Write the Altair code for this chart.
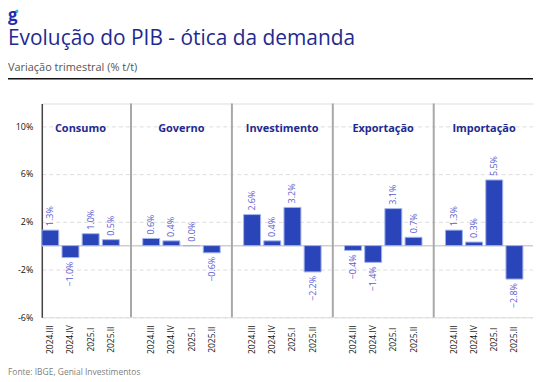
import altair as alt
import pandas as pd

# ---- data ----
components = ["Consumo", "Governo", "Investimento", "Exportação", "Importação"]
quarters = ["2024.III", "2024.IV", "2025.I", "2025.II"]
consumo = [1.3, -1.0, 1.0, 0.5]
governo = [0.6, 0.4, 0.0, -0.6]
investimento = [2.6, 0.4, 3.2, -2.2]
exportacao = [-0.4, -1.4, 3.1, 0.7]
importacao = [1.3, 0.3, 5.5, -2.8]
y_ticks = [-6, -2, 2, 6, 10]

title_text = "Evolução do PIB - ótica da demanda"
subtitle_text = "Variação trimestral (% t/t)"
source_text = "Fonte: IBGE, Genial Investimentos"
logo_text = "g"

series = [consumo, governo, investimento, exportacao, importacao]

rows = []
domain = []
gaps = []
for i, (comp, vals) in enumerate(zip(components, series)):
    if i > 0:
        g = f"gap{i}"
        domain.append(g)
        gaps.append(g)
    for q, v in zip(quarters, vals):
        key = f"{comp}|{q}"
        domain.append(key)
        rows.append({"comp": comp, "quarter": q, "key": key, "value": v})
df = pd.DataFrame(rows)
bar_keys = list(df["key"])
titles_df = pd.DataFrame({"comp": components, "key": [f"{c}|{quarters[1]}" for c in components]})
gaps_df = pd.DataFrame({"key": gaps})

FONT = "Open Sans"
NAVY = "#1f2a8f"

xscale = alt.Scale(domain=domain, paddingInner=0.16, paddingOuter=0.25, align=0)
yscale = alt.Scale(domain=[-6, 11.9], nice=False, zero=False)

x_axis = alt.Axis(title=None, values=bar_keys, labelAngle=270, labelAlign="center",
                  labelBaseline="middle", labelPadding=22, ticks=False, domain=False, grid=False,
                  labelExpr="split(datum.value, '|')[1]", labelFontSize=8.5,
                  labelColor="#111111", labelOverlap=False, labelFont=FONT)
y_axis = alt.Axis(values=y_ticks, title=None, labelExpr="datum.value + '%'", grid=True,
                  gridDash=[4, 3], gridColor="#dddddd", domain=True, domainColor="#444444",
                  domainWidth=1.5, ticks=False, labelPadding=9, labelFontSize=9,
                  labelColor="#111111", labelFont=FONT)

x_enc = alt.X("key:N", scale=xscale, sort=domain, axis=x_axis)
y_enc = alt.Y("value:Q", scale=yscale, axis=y_axis)

bars = alt.Chart(df).mark_bar(color="#2a44b9", stroke="#a3b2ee", strokeWidth=1).encode(
    x=x_enc, y=y_enc)

zero = alt.Chart(pd.DataFrame({"value": [0]})).mark_rule(color="#cfcfcf", strokeWidth=1.5).encode(
    y=y_enc)

seps = alt.Chart(gaps_df).mark_rule(color="#a8a8a8", strokeWidth=2).encode(x=x_enc)

lab_base = alt.Chart(df).transform_calculate(
    label="format(datum.value, '.1f') + '%'")
lab_pos = lab_base.transform_filter("datum.value >= 0").mark_text(
    angle=270, align="left", baseline="middle", dx=4, fontSize=9, color="#5a5ad0", font=FONT
).encode(x=x_enc, y=y_enc, text="label:N")
lab_neg = lab_base.transform_filter("datum.value < 0").mark_text(
    angle=270, align="right", baseline="middle", dx=-4, fontSize=9, color="#5a5ad0", font=FONT
).encode(x=x_enc, y=y_enc, text="label:N")

panel_titles = alt.Chart(titles_df).mark_text(
    fontWeight="bold", fontSize=11, color=NAVY, dx=10, baseline="alphabetic", font=FONT
).encode(x=x_enc, y=alt.value(29), text="comp:N")

def txt(t, x, y, **kw):
    return alt.Chart(pd.DataFrame({"t": [t]})).mark_text(
        align="left", baseline="alphabetic", font=FONT, **kw
    ).encode(x=alt.value(x), y=alt.value(y), text="t:N")

logo = txt(logo_text, -34, -83, fontSize=17, fontWeight="bold", color="#1d2fb0")
logo_dot = alt.Chart(pd.DataFrame({"t": [logo_text]})).mark_point(
    filled=True, color="#3fb7f0", size=10, opacity=1).encode(x=alt.value(-25), y=alt.value(-93))
title = txt(title_text, -34, -59, fontSize=21, color=NAVY)
subtitle = txt(subtitle_text, -34, -33, fontSize=11, color="#555555")
source = txt(source_text, -34, 273, fontSize=8.5, color="#808080")
hline = alt.Chart(pd.DataFrame({"t": [0]})).mark_rule(color="#111111", strokeWidth=1.5).encode(
    x=alt.value(-34), x2=alt.value(494), y=alt.value(-25))

chart = alt.layer(
    zero, bars, seps, lab_pos, lab_neg, panel_titles,
    logo, logo_dot, title, subtitle, hline, source,
).properties(
    width=494, height=215,
    padding={"left": 34, "top": 95, "right": 0, "bottom": 62},
    autosize=alt.AutoSizeParams(type="none"),
).configure_view(stroke=None).configure(font=FONT)

chart.save("out.html", embed_options={"renderer": "svg", "actions": False})
